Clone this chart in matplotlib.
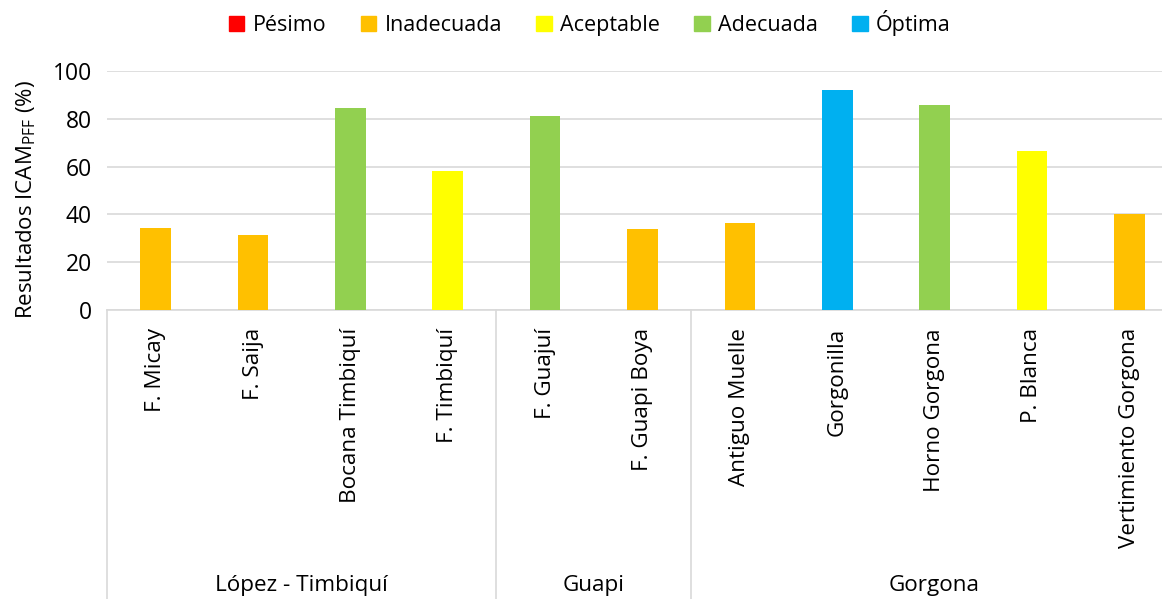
import matplotlib.pyplot as plt
import numpy as np
from matplotlib.patches import Patch
from matplotlib.transforms import blended_transform_factory

plt.rcParams['font.family'] = ['Open Sans', 'DejaVu Sans']
plt.rcParams['mathtext.fontset'] = 'custom'
plt.rcParams['mathtext.rm'] = 'Open Sans'

# data
sites = ['F. Micay', 'F. Saija', 'Bocana Timbiquí', 'F. Timbiquí',
         'F. Guajuí', 'F. Guapi Boya',
         'Antiguo Muelle', 'Gorgonilla', 'Horno Gorgona', 'P. Blanca', 'Vertimiento Gorgona']
values = [34.4, 31.5, 84.5, 58.3, 81.0, 33.9, 36.3, 92.0, 85.6, 66.4, 40.3]
site_class = ['Inadecuada', 'Inadecuada', 'Adecuada', 'Aceptable',
              'Adecuada', 'Inadecuada',
              'Inadecuada', 'Óptima', 'Adecuada', 'Aceptable', 'Inadecuada']
groups = ['López - Timbiquí', 'Guapi', 'Gorgona']
group_sizes = [4, 2, 5]

classes = ['Pésimo', 'Inadecuada', 'Aceptable', 'Adecuada', 'Óptima']
class_colors = ['#FF0000', '#FFC000', '#FFFF00', '#92D050', '#00B0F0']
cmap = dict(zip(classes, class_colors))

W, H = 1162, 599
fig = plt.figure(figsize=(W / 100, H / 100), dpi=100)
ax = fig.add_axes([107 / W, 1 - 310 / H, 1071 / W, 239 / H])

x = np.arange(len(sites))
ax.bar(x, values, width=0.315, color=[cmap[c] for c in site_class], zorder=3)

ax.set_xlim(-0.5, len(sites) - 0.5)
ax.set_ylim(0, 100)
ax.set_yticks(range(0, 101, 20))
ax.grid(axis='y', color='#d9d9d9', lw=1.2, zorder=0)
for s in ['left', 'right', 'top']:
    ax.spines[s].set_visible(False)
ax.spines['bottom'].set_color('#d9d9d9')
ax.spines['bottom'].set_linewidth(1.2)
ax.tick_params(axis='y', length=0, labelsize=16.5, pad=11)
ax.set_xticks(x)
ax.set_xticklabels(sites, rotation=90, ha='center', va='top', fontsize=16.2)
ax.tick_params(axis='x', length=0, pad=13)

fig.text(26 / W, 1 - 200 / H, 'Resultados ICAM$_{\\mathregular{PFF}}$ (%)',
         rotation=90, ha='center', va='center', fontsize=16)

# group separators and labels
tr = blended_transform_factory(ax.transData, fig.transFigure)
ybot = 1 - 310 / H
edges = np.concatenate([[0], np.cumsum(group_sizes)]) - 0.5
for e in edges:
    ax.plot([e, e], [ybot, 0], transform=tr, color='#d9d9d9', lw=1.2, clip_on=False)
for g, a, b in zip(groups, edges[:-1], edges[1:]):
    ax.text((a + b) / 2, 1 - 586 / H, g, transform=tr, ha='center', va='center', fontsize=16.2)

handles = [Patch(color=c, label=l) for l, c in zip(classes, class_colors)]
fig.legend(handles=handles, loc='center', bbox_to_anchor=(590 / W, 1 - 23 / H), ncol=5,
           frameon=False, fontsize=15.5, handlelength=0.7, handleheight=0.7,
           handletextpad=0.4, columnspacing=1.6)

fig.savefig('out.png', dpi=100)
